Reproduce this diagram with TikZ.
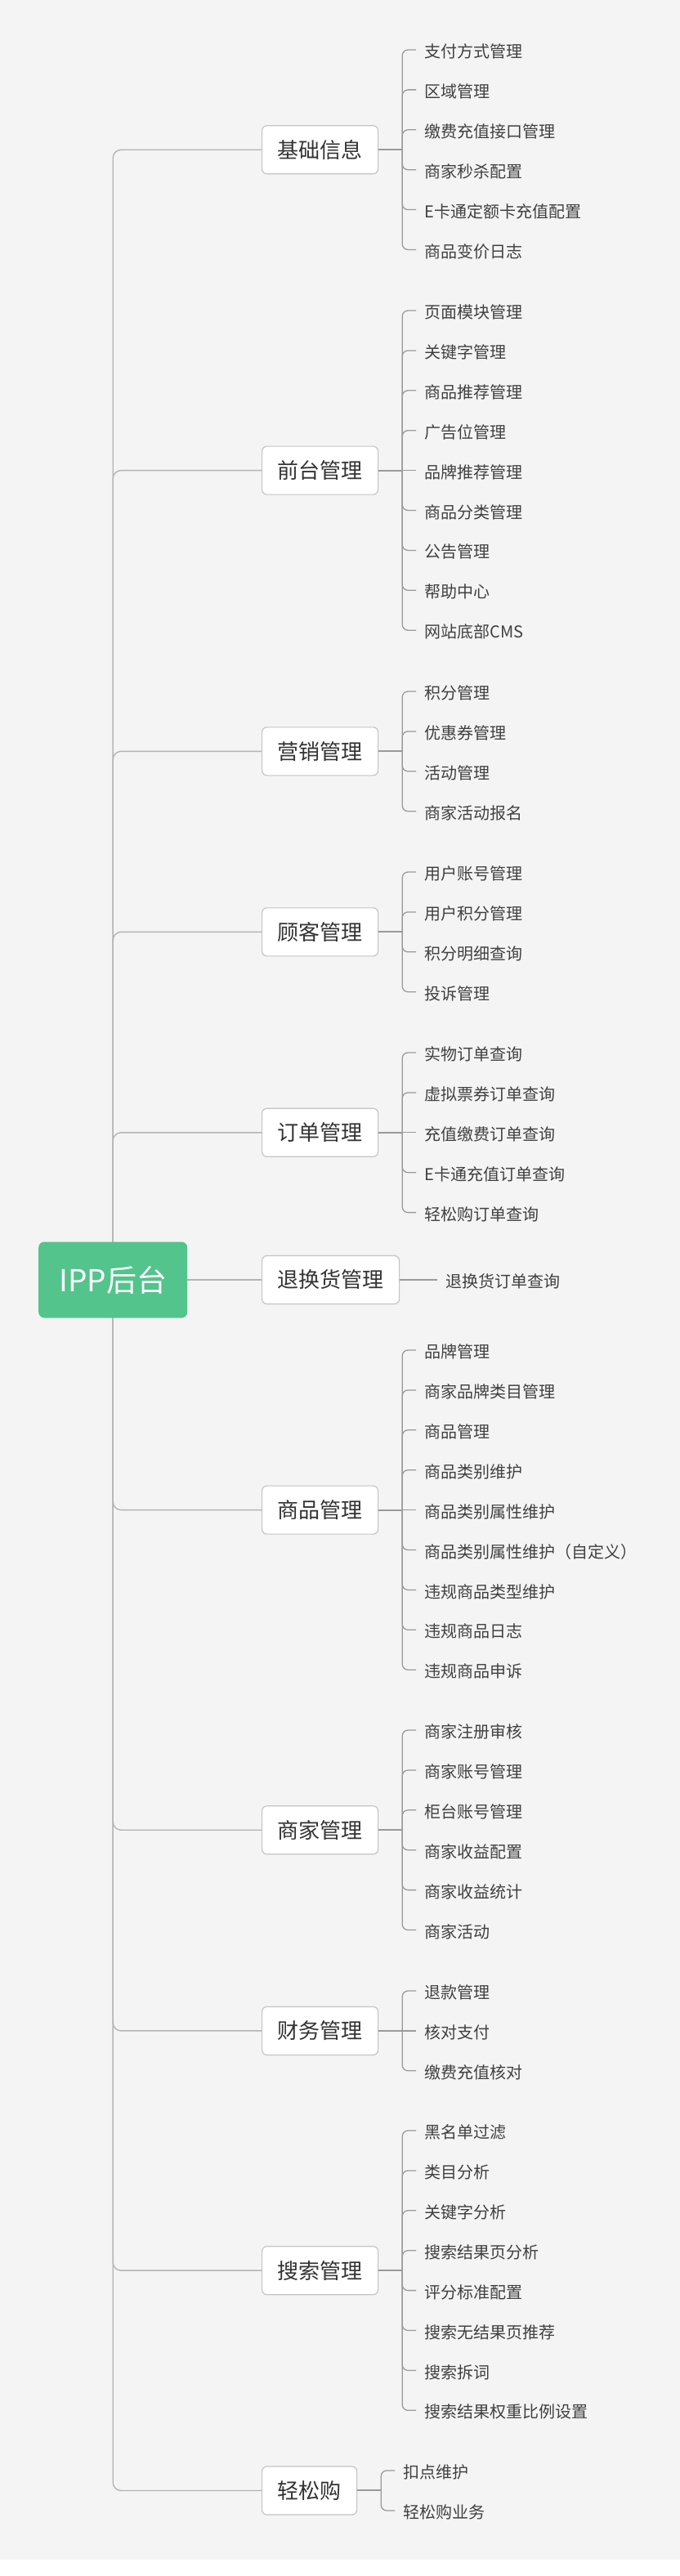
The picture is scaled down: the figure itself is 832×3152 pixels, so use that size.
\documentclass[tikz,border=0pt]{standalone}
\usepackage{fontspec}
\newfontfamily\cjk{Noto Sans CJK SC}
\usetikzlibrary{backgrounds}
\definecolor{bgc}{HTML}{F4F4F4}
\definecolor{rootgreen}{HTML}{52C48C}
\definecolor{rootline}{HTML}{B4B4B4}
\definecolor{subline}{HTML}{9A9A9A}
\definecolor{boxborder}{HTML}{C4C4C4}
\definecolor{boxtxt}{HTML}{333333}
\definecolor{leaftxt}{HTML}{404040}
\tikzset{
 rootbox/.style={fill=rootgreen, rounded corners=7pt, text=white, font=\cjk\fontsize{37}{40}\selectfont, minimum width=182pt, minimum height=93pt, inner sep=0pt, anchor=west},
 topicbox/.style={draw=boxborder, line width=1.2pt, fill=white, rounded corners=6pt, text=boxtxt, font=\cjk\fontsize{26}{30}\selectfont, inner xsep=19pt, inner ysep=0pt, minimum height=59pt, anchor=west},
 leaf/.style={text=leaftxt, font=\cjk\fontsize{20}{24}\selectfont, inner sep=0pt, anchor=west},
 branch/.style={draw=rootline, line width=1.4pt, rounded corners=10pt},
 stem/.style={draw=subline, line width=2pt},
 twig/.style={draw=subline, line width=1.3pt, rounded corners=7pt},
}
\newcommand\mmgroup[5]{%
 \pgfmathsetmacro\mmgc{#3+(#4-1)*48.9/2}
 \node[topicbox] (#1) at (320,\mmgc) {#2};
 \coordinate (#1v) at ([xshift=29pt]#1.east);
 \draw[stem] (#1.east) -- (#1v);
 \foreach \t [count=\i] in {#5} {
   \pgfmathsetmacro\mmcy{#3+(\i-1)*48.9}
   \coordinate (#1y\i) at (0,\mmcy);
   \coordinate (#1t\i) at (#1v |- #1y\i);
   \node[leaf, xshift=27pt, yshift=-2pt] (#1c\i) at (#1t\i) {\t};
   \coordinate (#1e\i) at ([xshift=17pt]#1t\i);
   \pgfmathparse{abs(\mmcy-\mmgc)<0.5 ? 1 : 0}
   \ifnum\pgfmathresult=1
     \draw[twig] (#1v) -- (#1e\i);
   \else
     \draw[twig] (#1v) |- (#1e\i);
   \fi
 }
}
\begin{document}
\begin{tikzpicture}[x=1pt,y=-1pt]
\useasboundingbox (0,0) rectangle (832,3152);
\begin{pgfonlayer}{background}
\fill[bgc] (0,0) rectangle (832,3132);
\fill[white] (0,3132) rectangle (832,3152);
\end{pgfonlayer}
\node[rootbox] (root) at (47,1566) {IPP后台};
\mmgroup{g1}{基础信息}{61}{6}{支付方式管理,区域管理,缴费充值接口管理,商家秒杀配置,E卡通定额卡充值配置,商品变价日志}
\mmgroup{g2}{前台管理}{380}{9}{页面模块管理,关键字管理,商品推荐管理,广告位管理,品牌推荐管理,商品分类管理,公告管理,帮助中心,网站底部CMS}
\mmgroup{g3}{营销管理}{846}{4}{积分管理,优惠券管理,活动管理,商家活动报名}
\mmgroup{g4}{顾客管理}{1067}{4}{用户账号管理,用户积分管理,积分明细查询,投诉管理}
\mmgroup{g5}{订单管理}{1288}{5}{实物订单查询,虚拟票券订单查询,充值缴费订单查询,E卡通充值订单查询,轻松购订单查询}
\mmgroup{g6}{退换货管理}{1566}{1}{退换货订单查询}
\mmgroup{g7}{商品管理}{1652}{9}{品牌管理,商家品牌类目管理,商品管理,商品类别维护,商品类别属性维护,商品类别属性维护（自定义）,违规商品类型维护,违规商品日志,违规商品申诉}
\mmgroup{g8}{商家管理}{2117}{6}{商家注册审核,商家账号管理,柜台账号管理,商家收益配置,商家收益统计,商家活动}
\mmgroup{g9}{财务管理}{2436}{3}{退款管理,核对支付,缴费充值核对}
\mmgroup{g10}{搜索管理}{2607}{8}{黑名单过滤,类目分析,关键字分析,搜索结果页分析,评分标准配置,搜索无结果页推荐,搜索拆词,搜索结果权重比例设置}
\mmgroup{g11}{轻松购}{3023}{2}{扣点维护,轻松购业务}
\begin{pgfonlayer}{background}
\foreach \g in {g1,g2,g3,g4,g5,g7,g8,g9,g10,g11} {
  \draw[branch] (root.center) |- (\g.west);
}
\draw[branch] (root.east) -- (g6.west);
\end{pgfonlayer}
\end{tikzpicture}
\end{document}
